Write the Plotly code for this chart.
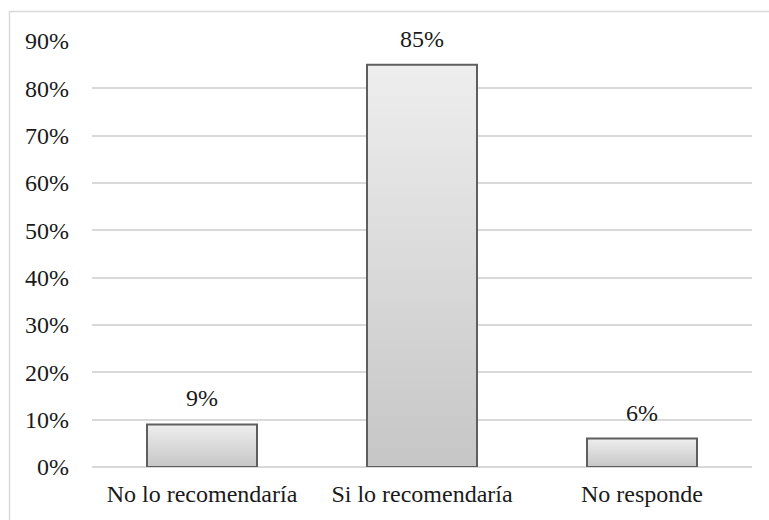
import plotly.graph_objects as go

categories = ["No lo recomendaría", "Si lo recomendaría", "No responde"]
values = [0.09, 0.85, 0.06]
tick_vals = [0, 0.1, 0.2, 0.3, 0.4, 0.5, 0.6, 0.7, 0.8, 0.9]
tick_text = ["0%", "10%", "20%", "30%", "40%", "50%", "60%", "70%", "80%", "90%"]

FONT = "'Liberation Serif', 'Times New Roman', Times, serif"
FS = 24
BAR_W = 0.5
OUTLINE = "#5f5f5f"

fig = go.Figure()

# Gradient-filled bars (polygons built from the data values on the numeric axis)
for i, v in enumerate(values):
    fig.add_trace(go.Scatter(
        x=[i - BAR_W / 2, i - BAR_W / 2, i + BAR_W / 2, i + BAR_W / 2, i - BAR_W / 2],
        y=[0, v, v, 0, 0],
        mode="lines",
        fill="toself",
        fillgradient=dict(type="vertical",
                          colorscale=[[0, "#c6c6c6"], [1, "#eeeeee"]]),
        line=dict(color=OUTLINE, width=2),
        hoverinfo="skip",
        showlegend=False,
    ))

for i, v in enumerate(values):
    fig.add_annotation(
        x=i, y=v, text=f"{round(v*100)}%", showarrow=False,
        yanchor="bottom", yshift=11,
        font=dict(family=FONT, size=FS, color="#1a1a1a"),
    )

fig.add_shape(type="rect", xref="paper", yref="paper",
              x0=-0.125, x1=1.04, y0=-0.16, y1=1.0692,
              line=dict(color="#d9d9d9", width=1.5), layer="below")

fig.update_layout(
    width=769, height=520,
    margin=dict(l=92, r=17, t=41, b=53),
    paper_bgcolor="white", plot_bgcolor="white",
    font=dict(family=FONT, size=FS, color="#1a1a1a"),
    showlegend=False,
    xaxis=dict(range=[-0.5, 2.5], tickvals=[0, 1, 2], ticktext=categories,
               showgrid=False, zeroline=False, showline=False, ticks="",
               ticklabelstandoff=10),
    yaxis=dict(range=[0, 0.9], tickvals=tick_vals, ticktext=tick_text,
               showgrid=True, gridcolor="#d9d9d9", gridwidth=1.5,
               zeroline=True, zerolinecolor="#d9d9d9", zerolinewidth=1.5,
               showline=False, ticks="", ticklabelstandoff=22),
)

fig.write_html("out.html")
